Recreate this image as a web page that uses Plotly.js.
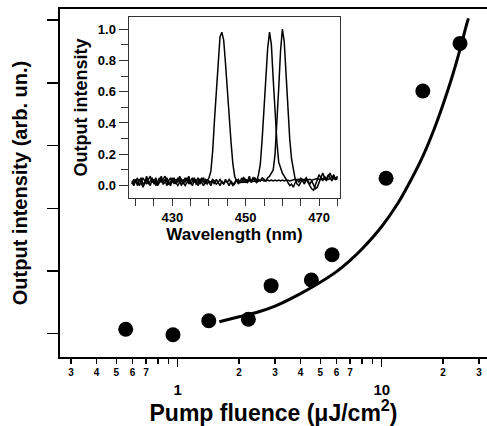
<!DOCTYPE html>
<html>
<head>
<meta charset="utf-8">
<script src="https://cdn.plot.ly/plotly-3.0.1.min.js"></script>
<style>html,body{margin:0;padding:0;background:#fff;}#chart{width:487px;height:426px;}</style>
</head>
<body>
<div id="chart"></div>
<script>
// ---- Main panel data ----
const fluence = [0.556, 0.948, 1.42, 2.22, 2.87, 4.52, 5.71, 10.5, 15.9, 24.2];
const intensity = [0.07, -0.016, 0.207, 0.23, 0.766, 0.856, 1.26, 2.48, 3.87, 4.63];
const fitFluence = [1.6, 2, 2.5, 3, 4, 5, 6, 7, 8, 10, 12, 14, 16, 18, 20, 22, 24, 26, 26.6];
const fitIntensity = [0.19, 0.27, 0.35, 0.44, 0.64, 0.82, 0.99, 1.17, 1.35, 1.71, 2.08, 2.47, 2.85, 3.25, 3.66, 4.07, 4.49, 4.92, 5.03];
const labelledTickVals = [0.3,0.4,0.5,0.6,0.7,2,3,4,5,6,7,20,30];
const labelledTickText = ["3","4","5","6","7","2","3","4","5","6","7","2","3"];
const unlabelledTickVals = [0.8, 0.9, 8, 9];
const majorTickVals = [1, 10];
const majorTickText = ["1", "10"];

// ---- Inset data ----
const wavelength = [
 419,419.5,420,420.5,421,421.5,422,422.5,423,423.5,
 424,424.5,425,425.5,426,426.5,427,427.5,428,428.5,
 429,429.5,430,430.5,431,431.5,432,432.5,433,433.5,
 434,434.5,435,435.5,436,436.5,437,437.5,438,438.5,
 439,439.5,440,440.5,441,441.5,442,442.5,443,443.5,
 444,444.5,445,445.5,446,446.5,447,447.5,448,448.5,
 449,449.5,450,450.5,451,451.5,452,452.5,453,453.5,
 454,454.5,455,455.5,456,456.5,457,457.5,458,458.5,
 459,459.5,460,460.5,461,461.5,462,462.5,463,463.5,
 464,464.5,465,465.5,466,466.5,467,467.5,468,468.5,
 469,469.5,470,470.5,471,471.5,472,472.5,473,473.5,
 474,474.5,475];
const spectrum443 = [
 0.03,0.01,0.04,0.00,0.03,0.05,0.01,0.02,0.06,0.02,
 0.00,0.04,0.02,0.05,0.01,0.03,0.06,0.02,0.04,0.00,
 0.03,0.05,0.02,0.04,0.01,0.05,0.03,0.00,0.04,0.02,
 0.05,0.01,0.03,0.05,0.02,0.04,0.00,0.03,0.05,0.02,
 0.04,0.03,0.05,0.09,0.22,0.42,0.62,0.82,0.95,0.98,
 0.93,0.78,0.60,0.44,0.28,0.14,0.06,0.03,0.025,0.02,
 0.02,0.025,0.02,0.025,0.03,0.025,0.03,0.03,0.025,0.03,
 0.03,0.035,0.03,0.03,0.035,0.03,0.035,0.03,0.035,0.03,
 0.035,0.03,0.035,0.03,0.035,0.035,0.03,0.035,0.035,0.04,
 0.035,0.04,0.035,0.04,0.04,0.035,0.04,0.04,0.035,0.04,
 0.04,0.045,0.04,0.04,0.045,0.04,0.045,0.04,0.045,0.04,
 0.045,0.04,0.045];
const spectrum457 = [
 0.01,0.04,0.02,0.05,0.00,0.02,0.05,0.03,0.01,0.04,
 0.06,0.02,0.04,0.00,0.03,0.05,0.02,0.04,0.06,0.03,
 0.01,0.02,0.05,0.01,0.04,0.02,0.06,0.03,0.01,0.05,
 0.03,0.06,0.02,0.00,0.04,0.02,0.05,0.01,0.03,0.05,
 0.01,0.04,0.02,0.00,0.03,0.01,0.04,0.02,0.00,0.03,
 0.01,0.04,0.02,0.00,0.03,0.01,0.02,0.04,0.01,0.03,
 0.05,0.02,0.04,0.03,0.06,0.02,0.04,0.05,0.03,0.07,
 0.14,0.30,0.50,0.70,0.88,0.98,0.90,0.68,0.46,0.28,
 0.15,0.11,0.08,0.06,0.04,0.02,0.00,0.01,-0.01,0.02,
 0.04,0.02,0.05,0.03,0.01,0.04,0.02,0.00,-0.02,-0.03,
 0.00,0.04,0.07,0.05,0.03,0.06,0.04,0.07,0.05,0.03,
 0.06,0.04,0.05];
const spectrum460 = [
 0.02,0.00,0.03,0.01,0.04,0.02,-0.01,0.02,0.04,0.01,
 0.03,0.05,0.01,0.03,0.00,0.02,0.04,0.01,0.02,0.05,
 0.02,0.00,0.03,0.05,0.02,0.00,0.02,0.04,0.02,0.00,
 0.02,0.04,0.01,0.03,0.05,0.01,0.02,0.04,0.02,0.00,
 0.03,0.01,0.03,0.02,0.04,0.03,0.01,0.02,0.04,0.02,
 0.01,0.03,0.02,0.04,0.02,0.00,0.01,0.03,0.04,0.02,
 0.03,0.05,0.03,0.02,0.04,0.03,0.05,0.03,0.02,0.04,
 0.03,0.05,0.04,0.03,0.05,0.06,0.08,0.10,0.20,0.38,
 0.62,0.86,1.00,0.92,0.70,0.48,0.30,0.17,0.09,0.04,
 0.01,0.00,0.02,0.04,0.03,0.05,0.03,0.01,0.03,0.00,
 -0.02,-0.01,0.02,0.06,0.08,0.05,0.03,0.06,0.08,0.05,
 0.07,0.04,0.06];

const FONT = "Liberation Sans, Arial, Helvetica, sans-serif";
const INK = "#000";
const INSET = "#333";

const specLine = {color: INK, width: 1.5};
const traces = [
  {x: fitFluence, y: fitIntensity, mode: "lines", line: {color: INK, width: 3, shape: "spline", smoothing: 1}, xaxis: "x", yaxis: "y", hoverinfo: "skip"},
  {x: fluence, y: intensity, mode: "markers", marker: {color: INK, size: 15}, xaxis: "x", yaxis: "y"},
  {x: [], y: [], xaxis: "x3", yaxis: "y", mode: "markers", hoverinfo: "skip"},
  {x: wavelength, y: spectrum443, mode: "lines", line: specLine, xaxis: "x2", yaxis: "y2"},
  {x: wavelength, y: spectrum457, mode: "lines", line: specLine, xaxis: "x2", yaxis: "y2"},
  {x: wavelength, y: spectrum460, mode: "lines", line: specLine, xaxis: "x2", yaxis: "y2"}
];

const layout = {
  width: 487, height: 426,
  margin: {l: 60, r: 0, t: 9, b: 69},
  paper_bgcolor: "#fff", plot_bgcolor: "#fff",
  showlegend: false,
  font: {family: FONT, color: INK},
  xaxis: {
    type: "log", range: [-0.577, 1.516], domain: [0, 1],
    tickmode: "array", tickvals: labelledTickVals, ticktext: labelledTickText,
    ticks: "outside", ticklen: 5, tickwidth: 1.5, tickcolor: INK,
    minor: {tickmode: "array", tickvals: unlabelledTickVals, ticks: "outside", ticklen: 5, tickwidth: 1.5, tickcolor: INK, showgrid: false},
    tickfont: {family: FONT, size: 10, weight: 700, color: INK},
    showline: true, linewidth: 2, linecolor: INK, mirror: true,
    showgrid: false, zeroline: false, anchor: "y"
  },
  xaxis3: {
    type: "log", range: [-0.577, 1.516], overlaying: "x", anchor: "y", side: "bottom",
    tickmode: "array", tickvals: majorTickVals, ticktext: majorTickText,
    ticks: "outside", ticklen: 9, tickwidth: 1.5, tickcolor: INK,
    ticklabelstandoff: 10,
    tickfont: {family: FONT, size: 15, weight: 700, color: INK},
    showline: false, showgrid: false, zeroline: false,
    title: {text: "Pump fluence (μJ/cm<sup>2</sup>)", font: {family: FONT, size: 23, weight: 700, color: INK}, standoff: 3}
  },
  yaxis: {
    range: [-0.372, 5.179], domain: [0, 1],
    tickmode: "array", tickvals: [0, 1, 2, 3, 4, 5], showticklabels: false,
    ticks: "outside", ticklen: 11, tickwidth: 1.5, tickcolor: INK,
    showline: true, linewidth: 2, linecolor: INK,
    showgrid: false, zeroline: false, anchor: "x",
    title: {text: "Output intensity (arb. un.)", font: {family: FONT, size: 20, weight: 700, color: INK}, standoff: 14}
  },
  xaxis2: {
    range: [418.2, 475.7], domain: [0.1616, 0.6557], anchor: "y2",
    tick0: 430, dtick: 20, ticks: "outside", ticklen: 7, tickwidth: 1, tickcolor: INSET,
    minor: {dtick: 5, tick0: 430, ticks: "outside", ticklen: 7, tickwidth: 1, tickcolor: INSET},
    tickfont: {family: FONT, size: 13, weight: 700, color: INK},
    showline: true, linewidth: 1.5, linecolor: INSET, mirror: true,
    showgrid: false, zeroline: false,
    title: {text: "Wavelength (nm)", font: {family: FONT, size: 17, weight: 700, color: INK}, standoff: 0}
  },
  yaxis2: {
    range: [-0.077, 1.075], domain: [0.4578, 0.9762], anchor: "x2",
    tick0: 0, dtick: 0.2, tickformat: ".1f",
    ticks: "outside", ticklen: 9, tickwidth: 1, tickcolor: INSET,
    minor: {dtick: 0.1, tick0: 0, ticks: "outside", ticklen: 7, tickwidth: 1, tickcolor: INSET},
    tickfont: {family: FONT, size: 13, weight: 700, color: INK},
    showline: true, linewidth: 1.5, linecolor: INSET, mirror: true,
    showgrid: false, zeroline: false,
    title: {text: "Output intensity", font: {family: FONT, size: 18, weight: 700, color: INK}, standoff: 5}
  }
};

Plotly.newPlot("chart", traces, layout, {staticPlot: true, displayModeBar: false});
</script>
</body>
</html>
